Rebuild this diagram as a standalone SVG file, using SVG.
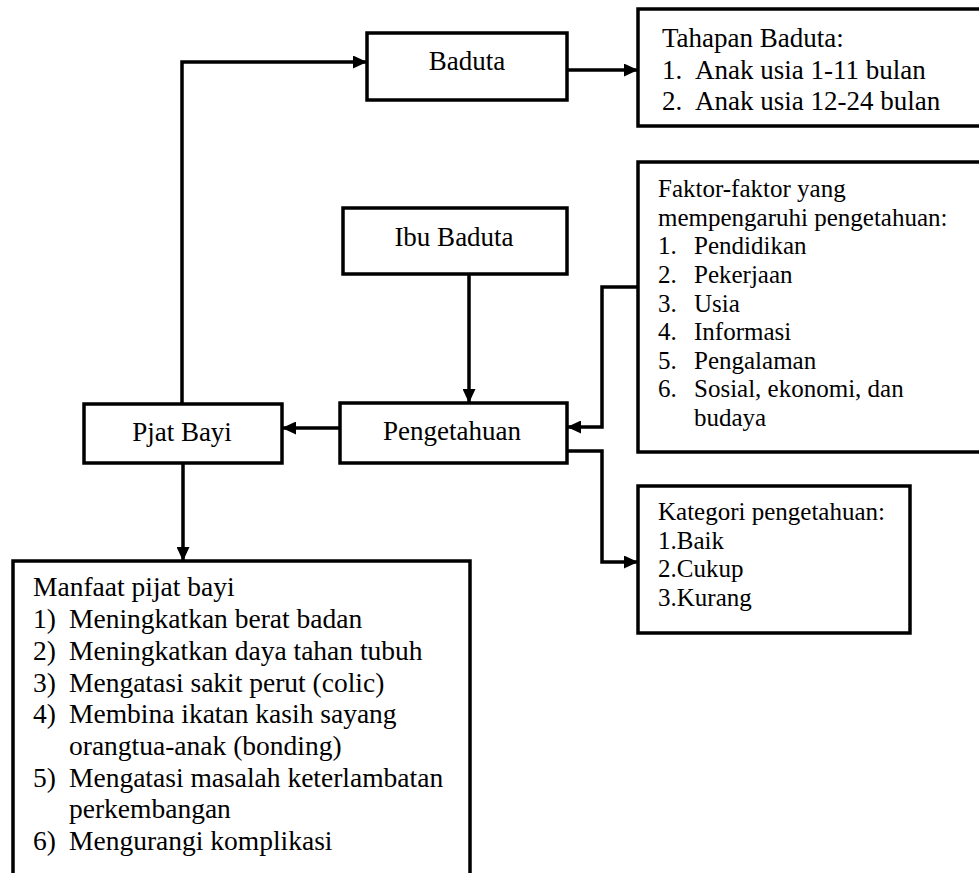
<svg xmlns="http://www.w3.org/2000/svg" width="979" height="873" viewBox="0 0 979 873">
<style>
.box{fill:#fff;stroke:#000;stroke-width:3.5}
.t{font-family:'Liberation Serif','Times New Roman',serif;fill:#000;font-size:27px}
.s{font-size:25px}
.m{font-size:27.5px}
.c{text-anchor:middle}
.ln{fill:none;stroke:#000;stroke-width:3.5}
</style>
<defs>
<marker id="ah" markerWidth="14" markerHeight="13" refX="14" refY="6.5" orient="auto" markerUnits="userSpaceOnUse">
<path d="M0,0 L14,6.5 L0,13 z" fill="#000"/>
</marker>
</defs>
<rect width="979" height="873" fill="#fff"/>
<g id="connectors">
<path class="ln" d="M182,404 V62 H367" marker-end="url(#ah)"/>
<path class="ln" d="M567,70 H638" marker-end="url(#ah)"/>
<path class="ln" d="M469,274 V403" marker-end="url(#ah)"/>
<path class="ln" d="M638,287 H602 V427 H567" marker-end="url(#ah)"/>
<path class="ln" d="M567,451 H602 V562 H638" marker-end="url(#ah)"/>
<path class="ln" d="M340,428 H282" marker-end="url(#ah)"/>
<path class="ln" d="M183,463 V561" marker-end="url(#ah)"/>
</g>
<g id="baduta">
<rect class="box" x="367" y="33" width="200" height="67"/>
<text class="t c" x="467" y="70">Baduta</text>
</g>
<g id="tahapan">
<rect class="box" x="638" y="9" width="345" height="117"/>
<text class="t" x="662" y="47">Tahapan Baduta:</text>
<text class="t" x="662" y="79">1.</text><text class="t" x="695" y="79">Anak usia 1-11 bulan</text>
<text class="t" x="662" y="110">2.</text><text class="t" x="695" y="110">Anak usia 12-24 bulan</text>
</g>
<g id="ibu-baduta">
<rect class="box" x="343" y="208" width="224" height="66"/>
<text class="t c" x="454" y="246">Ibu Baduta</text>
</g>
<g id="faktor">
<rect class="box" x="638" y="162" width="345" height="290"/>
<text class="t s" x="658" y="197">Faktor-faktor yang</text>
<text class="t s" x="658" y="226">mempengaruhi pengetahuan:</text>
<text class="t s" x="658" y="254">1.</text><text class="t s" x="694" y="254">Pendidikan</text>
<text class="t s" x="658" y="283">2.</text><text class="t s" x="694" y="283">Pekerjaan</text>
<text class="t s" x="658" y="312">3.</text><text class="t s" x="694" y="312">Usia</text>
<text class="t s" x="658" y="340">4.</text><text class="t s" x="694" y="340">Informasi</text>
<text class="t s" x="658" y="369">5.</text><text class="t s" x="694" y="369">Pengalaman</text>
<text class="t s" x="658" y="397">6.</text><text class="t s" x="694" y="397">Sosial, ekonomi, dan</text>
<text class="t s" x="694" y="426">budaya</text>
</g>
<g id="pengetahuan">
<rect class="box" x="340" y="403" width="227" height="60"/>
<text class="t c" x="452" y="440">Pengetahuan</text>
</g>
<g id="pjat-bayi">
<rect class="box" x="84" y="404" width="198" height="59"/>
<text class="t c" x="182" y="441">Pjat Bayi</text>
</g>
<g id="kategori">
<rect class="box" x="638" y="486" width="272" height="147"/>
<text class="t s" x="658" y="520">Kategori pengetahuan:</text>
<text class="t s" x="658" y="549">1.Baik</text>
<text class="t s" x="658" y="577">2.Cukup</text>
<text class="t s" x="658" y="606">3.Kurang</text>
</g>
<g id="manfaat">
<rect class="box" x="13" y="561" width="457" height="340"/>
<text class="t m" x="33" y="596">Manfaat pijat bayi</text>
<text class="t m" x="33" y="628">1)</text><text class="t m" x="69" y="628">Meningkatkan berat badan</text>
<text class="t m" x="33" y="660">2)</text><text class="t m" x="69" y="660">Meningkatkan daya tahan tubuh</text>
<text class="t m" x="33" y="692">3)</text><text class="t m" x="69" y="692">Mengatasi sakit perut (colic)</text>
<text class="t m" x="33" y="723">4)</text><text class="t m" x="69" y="723">Membina ikatan kasih sayang</text>
<text class="t m" x="69" y="755">orangtua-anak (bonding)</text>
<text class="t m" x="33" y="787">5)</text><text class="t m" x="69" y="787">Mengatasi masalah keterlambatan</text>
<text class="t m" x="69" y="818">perkembangan</text>
<text class="t m" x="33" y="850">6)</text><text class="t m" x="69" y="850">Mengurangi komplikasi</text>
</g>
</svg>
